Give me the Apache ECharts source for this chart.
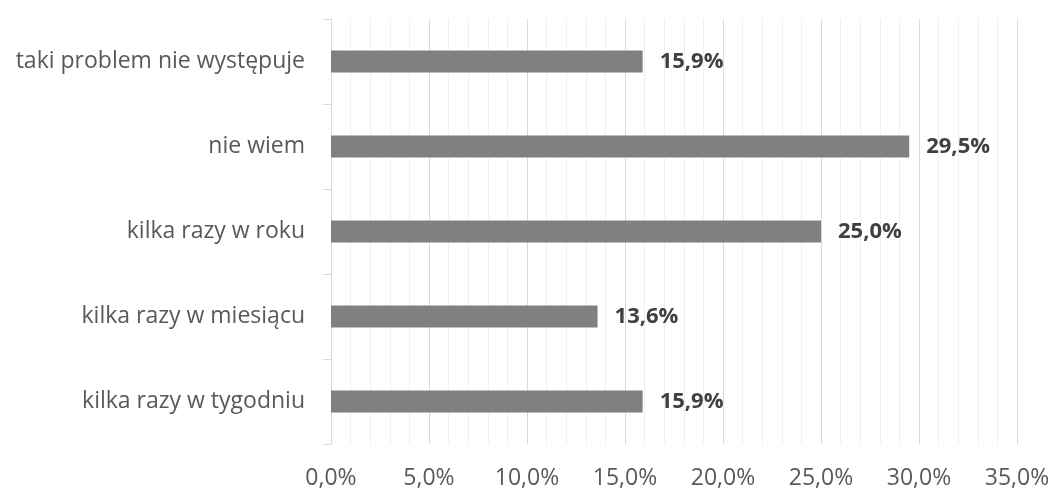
<!DOCTYPE html>
<html>
<head>
<meta charset="utf-8">
<script src="https://cdn.jsdelivr.net/npm/echarts@6/dist/echarts.min.js"></script>
<style>
  html, body { margin: 0; padding: 0; background: #fff; }
  #chart { width: 1053px; height: 490px; }
</style>
</head>
<body>
<div id="chart"></div>
<script>
// categories bottom -> top (as drawn by the category axis)
const categories = [
  'kilka razy w tygodniu',
  'kilka razy w miesiącu',
  'kilka razy w roku',
  'nie wiem',
  'taki problem nie występuje'
];
const values = [15.9, 13.6, 25.0, 29.5, 15.9];
const xTicks = [0, 5, 10, 15, 20, 25, 30, 35];

const fmt = v => v.toFixed(1).replace('.', ',') + '%';

const chart = echarts.init(document.getElementById('chart'));
chart.setOption({
  animation: false,
  textStyle: { fontFamily: '"Open Sans", sans-serif' },
  grid: { left: 331, right: 36, top: 19, bottom: 45, containLabel: false },
  xAxis: {
    type: 'value',
    min: xTicks[0],
    max: xTicks[xTicks.length - 1],
    interval: 5,
    axisLine: { show: false },
    axisTick: { show: false },
    axisLabel: { formatter: fmt, color: '#595959', fontSize: 23, margin: 23 },
    splitLine: { show: true, lineStyle: { color: '#d9d9d9', width: 1 } },
    minorTick: { show: false, splitNumber: 5 },
    minorSplitLine: { show: true, lineStyle: { color: '#f0f0f0', width: 1 } }
  },
  yAxis: {
    type: 'category',
    data: categories,
    axisLine: { show: true, lineStyle: { color: '#d9d9d9' } },
    axisTick: { show: true, length: 8, lineStyle: { color: '#d9d9d9' } },
    axisLabel: { color: '#595959', fontSize: 23, margin: 26 }
  },
  series: [{
    type: 'bar',
    data: values,
    barWidth: 22,
    itemStyle: { color: '#808080' },
    label: {
      show: true,
      position: 'right',
      distance: 17,
      formatter: p => fmt(p.value),
      color: '#404040',
      fontSize: 22,
      fontWeight: 'bold'
    }
  }]
});
</script>
</body>
</html>
